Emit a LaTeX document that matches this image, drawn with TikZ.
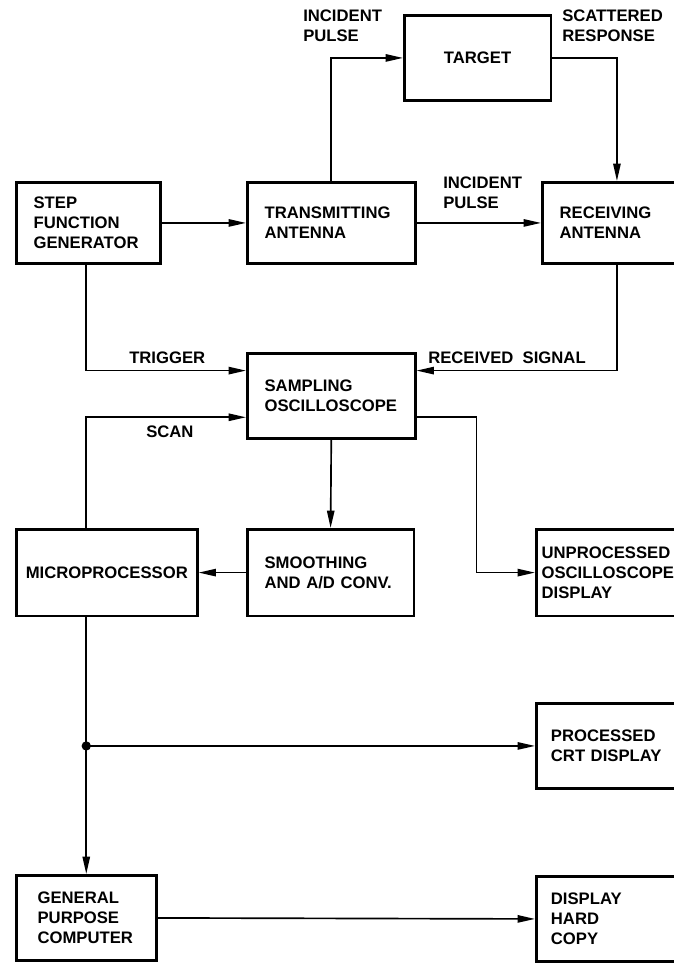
\documentclass[tikz,border=0pt]{standalone}
\usepackage{fontspec}
\setmainfont{Liberation Sans}
\usetikzlibrary{arrows.meta}

\begin{document}
\begin{tikzpicture}[x=0.75pt,y=-0.75pt,
  blk/.style={draw,line width=1.9pt,anchor=north west,minimum height=64pt,inner xsep=13pt,align=left,font=\fontsize{12.5}{15}\selectfont\bfseries},
  lbl/.style={anchor=west,align=left,inner sep=0pt,font=\fontsize{12.5}{15}\selectfont\bfseries},
  con/.style={line width=1.25pt,-{Triangle[length=13pt,width=5.5pt]}}]
\useasboundingbox (0,0) rectangle (674,964);
\clip (0,0) rectangle (674,964);
\node[blk,minimum height=61pt,text width=82pt] (step) at (15,181) {STEP\\FUNCTION\\GENERATOR};
\node[blk,minimum height=61pt,text width=100pt] (trans) at (246,181) {TRANSMITTING\\ANTENNA};
\node[blk,minimum height=61pt,text width=78pt] (recv) at (541,181) {RECEIVING\\ANTENNA};
\node[blk,text width=84pt,align=center] (target) at (403,14) {TARGET};
\node[blk,text width=100pt] (samp) at (246,352) {SAMPLING\\OSCILLOSCOPE};
\node[blk,minimum height=65pt,text width=123pt,inner xsep=6.4pt,align=center] (micro) at (15,528) {MICROPROCESSOR};
\node[blk,minimum height=65pt,text width=99pt] (smooth) at (246,528) {SMOOTHING\\AND A/D CONV.};
\node[blk,minimum height=65pt,text width=100.5pt,inner xsep=4pt] (unproc) at (535,528) {UNPROCESSED\\OSCILLOSCOPE\\DISPLAY};
\node[blk,text width=86.5pt,inner xsep=11pt] (proc) at (535,702) {PROCESSED\\CRT DISPLAY};
\node[blk,text width=73pt,inner xsep=16pt] (gp) at (15,874) {GENERAL\\PURPOSE\\COMPUTER};
\node[blk,text width=86.5pt,inner xsep=11pt] (dhc) at (535,875) {DISPLAY\\HARD\\COPY};
\node[lbl] (inc1) at (303,26) {INCIDENT\\PULSE};
\node[lbl] (scat) at (562,26) {SCATTERED\\RESPONSE};
\node[lbl] (inc2) at (443,193) {INCIDENT\\PULSE};
\node[lbl] (trig) at (129,358) {TRIGGER};
\node[lbl] (rsig) at (428,358) {RECEIVED\ \ SIGNAL};
\node[lbl] (scan) at (146,432) {SCAN};
\draw[con] (trans.north) |- (target.west);
\draw[con] (target.east) -| ([xshift=4pt]recv.north);
\draw[con] (step.east) -- (trans.west);
\draw[con] (trans.east) -- (recv.west);
\draw[con] (step.south -| gp.north) |- ([yshift=19pt]samp.west);
\draw[con] ([xshift=4pt]recv.south) |- ([yshift=19pt]samp.east);
\draw[con] (micro.north -| gp.north) |- ([yshift=-16pt]samp.west);
\draw[con] (samp.south) -- (smooth.north);
\draw[con] ([yshift=-16pt]samp.east) -- ++(60,0) |- (unproc.west);
\draw[con] (smooth.west) -- (micro.east);
\draw[con] (micro.south -| gp.north) -- (gp.north);
\draw[con] (gp.north |- proc.west) -- (proc.west);
\fill (gp.north |- proc.west) circle (3.5pt);
\draw[con] (gp.east) -- (dhc.west);
\end{tikzpicture}
\end{document}
